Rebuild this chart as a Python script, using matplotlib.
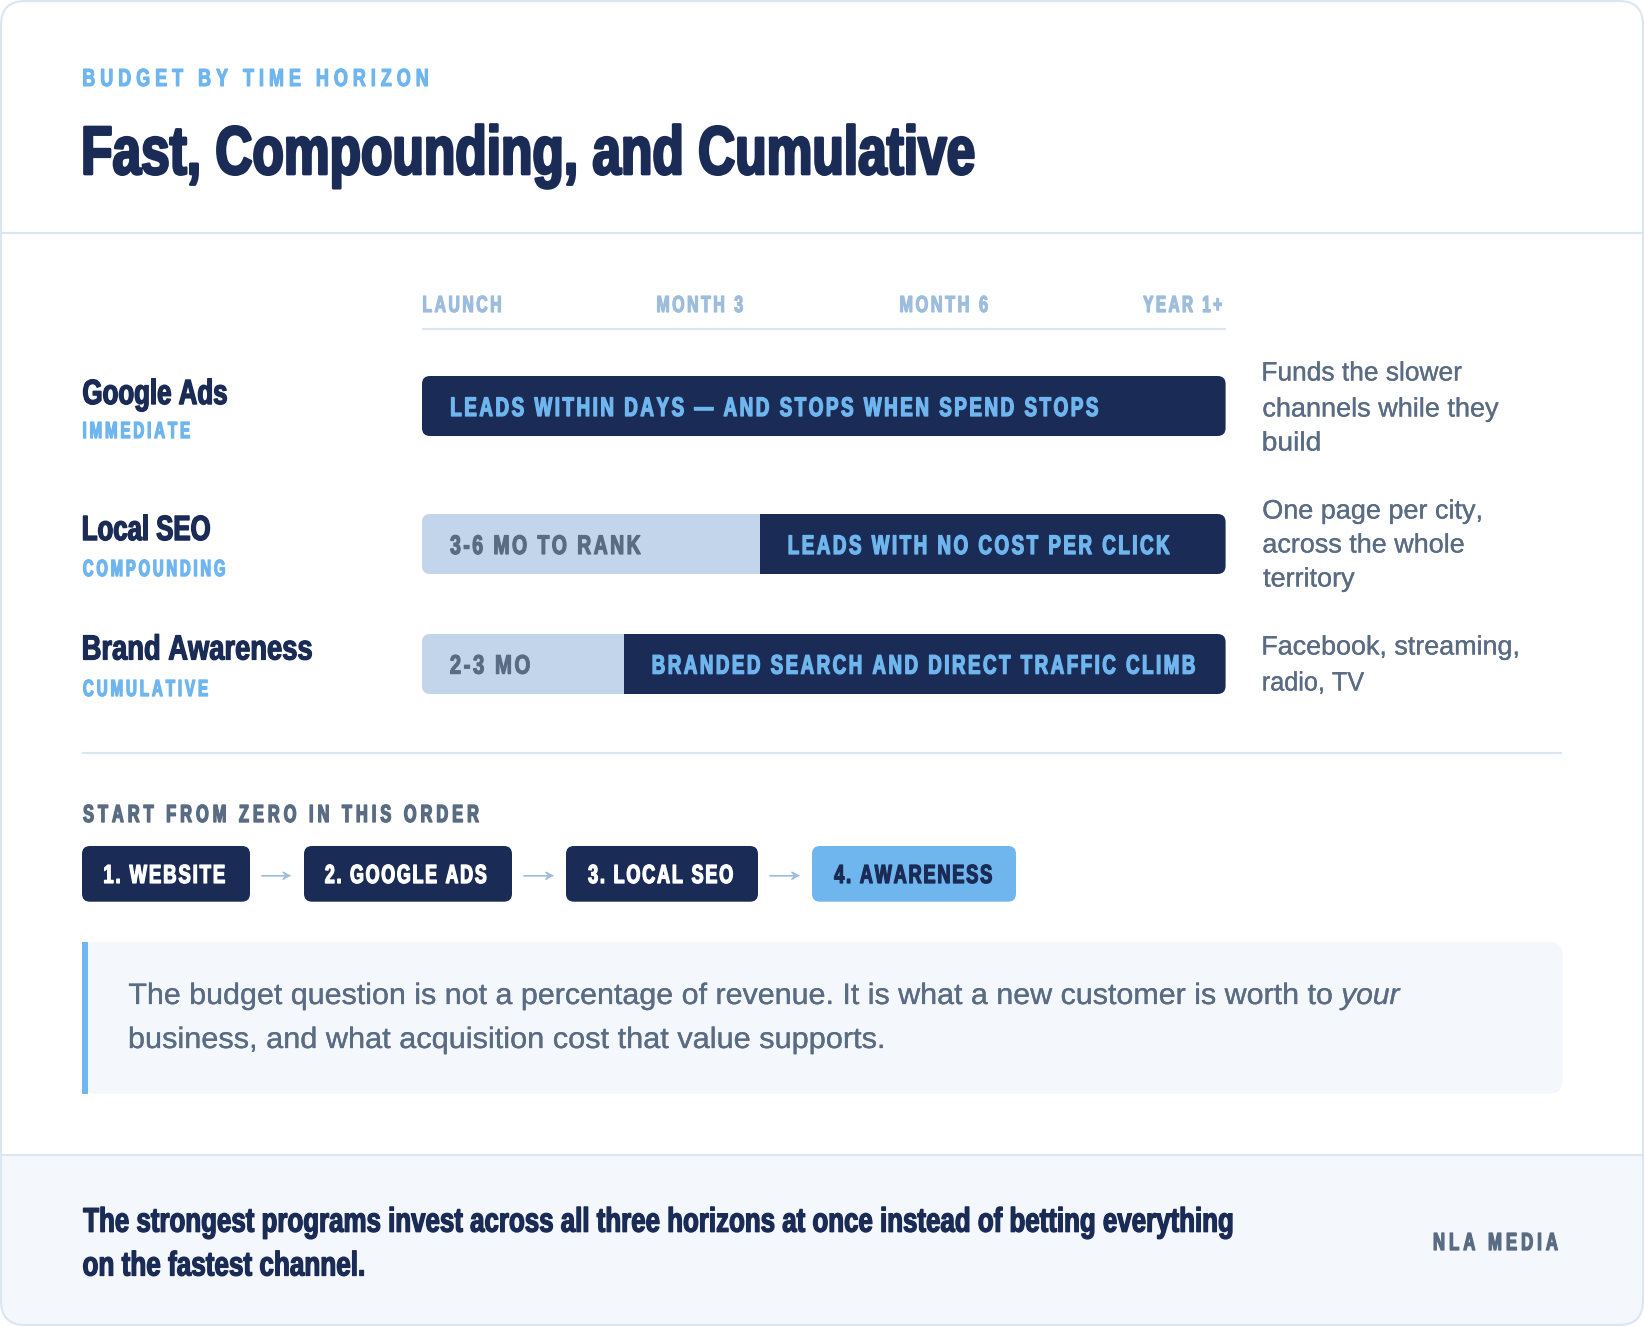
"""
Budget by time horizon card, redrawn with matplotlib.

The card uses a condensed, letter-spaced face that is not installed, so each
label gets a small font derived from Liberation Sans (narrowed and tracked)
and is still drawn as ordinary text.
"""

import os
import tempfile

import matplotlib
matplotlib.use("Agg")
import matplotlib.pyplot as plt
import matplotlib.patheffects as pe
from matplotlib import font_manager as fm
from matplotlib.patches import FancyBboxPatch, Rectangle
from fontTools import subset
from fontTools.ttLib import TTFont

# chart content
time_ticks = ["LAUNCH", "MONTH 3", "MONTH 6", "YEAR 1+"]
channels = ["Google Ads", "Local SEO", "Brand Awareness"]
horizons = ["IMMEDIATE", "COMPOUNDING", "CUMULATIVE"]
ramp_share = [0.0, 0.42, 0.251]
ramp_labels = ["", "3-6 MO TO RANK", "2-3 MO"]
payoff_labels = ["LEADS WITHIN DAYS — AND STOPS WHEN SPEND STOPS",
                 "LEADS WITH NO COST PER CLICK",
                 "BRANDED SEARCH AND DIRECT TRAFFIC CLIMB"]
notes = [["Funds the slower", "channels while they", "build"],
         ["One page per city,", "across the whole", "territory"],
         ["Facebook, streaming,", "radio, TV"]]
steps = ["1. WEBSITE", "2. GOOGLE ADS", "3. LOCAL SEO", "4. AWARENESS"]

W, H = 1644, 1326
NAVY = "#1a2b56"
SKY = "#6fb5ee"
PALE = "#c3d5ea"
RULE = "#dbe6f2"
SLATE = "#5a6b84"
TICK = "#9dbddd"
PANEL = "#f4f7fc"

CAP_RATIO = 1409 / 2048  # Liberation Sans cap height
EDGE = 1.5               # drawn ink runs a little wider than the outlines
plt.rcParams["text.hinting"] = "no_hinting"
font_dir = tempfile.mkdtemp()
CHARS = "".join(chr(c) for c in range(32, 127)) + "—→"


def base_font(weight, style):
    path = fm.findfont(fm.FontProperties(family="Liberation Sans", weight=weight, style=style))
    font = TTFont(path)
    opts = subset.Options()
    opts.hinting = False
    opts.layout_features = []
    opts.drop_tables += ["kern", "GPOS", "GSUB", "GDEF"]
    sub = subset.Subsetter(opts)
    sub.populate(text=CHARS)
    sub.subset(font)
    out = os.path.join(font_dir, f"base_{weight}_{style}.ttf")
    font.save(out)
    return out


BASES = {key: base_font(*key) for key in [("bold", "normal"), ("normal", "normal"), ("normal", "italic")]}
font_count = 0


def derive_font(key, s, size_px, span, track_px):
    # narrow the glyphs and add tracking so that s has the wanted ink width
    global font_count
    font = TTFont(BASES[key])
    upem = font["head"].unitsPerEm
    cmap = font.getBestCmap()
    glyf, hmtx = font["glyf"], font["hmtx"]
    names = [cmap[ord(c)] for c in s]
    natural = sum(hmtx[n][0] for n in names)
    first = glyf[names[0]]
    last = glyf[names[-1]]
    lsb = getattr(first, "xMin", 0)
    rsb = hmtx[names[-1]][0] - getattr(last, "xMax", hmtx[names[-1]][0])
    natural = (natural - lsb - rsb) * size_px / upem
    xs = (span - track_px * (len(s) - 1)) / natural
    extra = track_px / size_px * upem
    for name in font.getGlyphOrder():
        g = glyf[name]
        if g.isComposite():
            for comp in g.components:
                comp.x = round(comp.x * xs)
        elif g.numberOfContours > 0:
            g.coordinates.scale((xs, 1))
            g.coordinates.toInt()
        adv, side = hmtx[name]
        hmtx[name] = (round(adv * xs + extra), round(side * xs))
    font_count += 1
    out = os.path.join(font_dir, f"label_{font_count}.ttf")
    font.save(out)
    return out, xs, lsb * xs * size_px / upem


fig = plt.figure(figsize=(W / 100, H / 100), dpi=100, facecolor="white")


def px_axes(z):
    a = fig.add_axes([0, 0, 1, 1], zorder=z)
    a.set_xlim(0, W)
    a.set_ylim(H, 0)
    a.axis("off")
    return a


ax = px_axes(1)    # panels and rules
top = px_axes(3)   # all the text


def rounded(x0, y0, x1, y1, r, **kw):
    return FancyBboxPatch((x0, y0), x1 - x0, y1 - y0,
                          boxstyle=f"round,pad=0,rounding_size={r}", **kw)


def rule(x0, x1, y):
    ax.plot([x0, x1], [y, y], color=RULE, lw=1.5, zorder=2, solid_capstyle="butt")


def label(x0, x1, base, s, cap, track=0, color=NAVY, key=("bold", "normal"), stroke=None):
    size_px = cap / CAP_RATIO
    path, xs, lsb = derive_font(key, s, size_px, x1 - x0 - 2 * EDGE, track)
    t = top.text(x0 + EDGE - lsb, base, s, fontproperties=fm.FontProperties(fname=path),
                 color=color, ha="left", va="baseline")
    t.set_fontsize(size_px * 0.72)
    if stroke is None:
        # narrowing thins the stems, thicken them back
        stroke = 0.16 * size_px * (1 - xs) if key[0] == "bold" and xs < 1 else 0.3
    t.set_path_effects([pe.withStroke(linewidth=stroke * 0.72, foreground=color)])
    return t


REGULAR = ("normal", "normal")
ITALIC = ("normal", "italic")

# card, footer strip
ax.add_patch(rounded(1, 1, W - 1, H - 1, 24, fc="white", ec="none", transform=ax.transData))
strip = Rectangle((0, 1155), W, H - 1155, fc=PANEL, ec="none", zorder=1.5)
ax.add_patch(strip)
strip.set_clip_path(rounded(1, 1, W - 1, H - 1, 24, transform=ax.transData))
ax.add_patch(rounded(1, 1, W - 1, H - 1, 24, fc="none", ec=RULE, lw=1.5, zorder=2, transform=ax.transData))
rule(1, W - 1, 232.8)
rule(1, W - 1, 1155)
rule(422, 1225.6, 329)
rule(82, 1562, 753)

# header
label(82, 429, 86, "BUDGET BY TIME HORIZON", 17, track=5, color=SKY)
label(83, 975, 174, "Fast, Compounding, and Cumulative", 47)

# time axis labels
tick_spans = [(422, 502), (656, 744), (899, 989), (1142, 1223)]
for (x0, x1), s in zip(tick_spans, time_ticks):
    label(x0, x1, 312, s, 16, track=2.5, color=TICK)

# timeline bars: x runs 0..1 from launch to year 1+, y stays in pixels
tl = fig.add_axes([422 / W, 0, (1225.6 - 422) / W, 1], zorder=2)
tl.set_xlim(0, 1)
tl.set_ylim(H, 0)
tl.axis("off")
bar_tops = [376, 514, 634]
bar_h = 60
centres = [y + bar_h / 2 for y in bar_tops]
pay_width = [1 - s for s in ramp_share]
ramps = tl.barh(centres, ramp_share, height=bar_h, color=PALE)
pays = tl.barh(centres, pay_width, left=ramp_share, height=bar_h, color=NAVY)
for y, a, b in zip(bar_tops, ramps, pays):
    shape = rounded(422, y, 1225.6, y + bar_h, 8, transform=ax.transData)
    a.set_clip_path(shape)
    b.set_clip_path(shape)

# row text
name_right = [228, 211, 313]
name_base = [404, 540, 659.5]
horizon_right = [191, 226, 209]
horizon_base = [438, 576, 696]
ramp_right = [None, 642, 531]
pay_span = [(450, 1099), (787.5, 1171), (651.5, 1196)]
text_base = [416, 554, 673.7]
note_base = [[380.5, 416.5, 450.5], [518.5, 552.5, 586.5], [654.5, 690.5]]
note_right = [[1463, 1500, 1321], [1482, 1465, 1356], [1519, 1365.5]]
for i in range(3):
    label(82, name_right[i], name_base[i], channels[i], 24)
    label(82, horizon_right[i], horizon_base[i], horizons[i], 16, track=2.9, color=SKY)
    if ramp_labels[i]:
        label(449, ramp_right[i], text_base[i], ramp_labels[i], 18.5, track=2.5, color=SLATE)
    label(pay_span[i][0], pay_span[i][1], text_base[i], payoff_labels[i], 18.5, track=2.5, color=SKY)
    for line, base, right in zip(notes[i], note_base[i], note_right[i]):
        label(1262, right, base, line, 18.3, color=SLATE, key=REGULAR)

# order of steps
label(82, 480, 822, "START FROM ZERO IN THIS ORDER", 17, track=4, color=SLATE)
pill_span = [(82, 250), (304, 512), (566, 758), (812, 1016)]
pill_text = [(103, 226), (324, 487.5), (587, 734), (833, 993)]
arrow_span = [(262, 290), (524, 553), (770, 799)]
for i, s in enumerate(steps):
    last = i == len(steps) - 1
    ax.add_patch(rounded(pill_span[i][0], 846, pill_span[i][1], 901.7, 8,
                         fc=SKY if last else NAVY, ec="none", zorder=2))
    label(pill_text[i][0], pill_text[i][1], 883, s, 18, track=1.8, color=NAVY if last else "white")
for x0, x1 in arrow_span:
    label(x0 - 2, x1 + 2, 881, "→", 22, color=TICK, key=REGULAR, stroke=0.1)

# callout
ax.add_patch(rounded(82, 942, 1562.5, 1093.7, 13, fc=PANEL, ec="none", zorder=2))
ax.add_patch(Rectangle((82, 942), 6, 151.7, fc=SKY, ec="none", zorder=2))
label(127.5, 1333, 1004, "The budget question is not a percentage of revenue. It is what a new customer is worth to",
      20.3, color=SLATE, key=REGULAR)
label(1338, 1402, 1004, "your", 20.3, color=SLATE, key=ITALIC)
label(128.4, 884, 1048, "business, and what acquisition cost that value supports.", 20.3, color=SLATE, key=REGULAR)

# footer
label(82, 1234, 1231.7, "The strongest programs invest across all three horizons at once instead of betting everything", 23.5)
label(82, 365, 1275.5, "on the fastest channel.", 23.5)
label(1432.6, 1559, 1250, "NLA MEDIA", 17, track=4, color=SLATE)

fig.savefig("out.png", dpi=100, facecolor="white")
plt.close(fig)
